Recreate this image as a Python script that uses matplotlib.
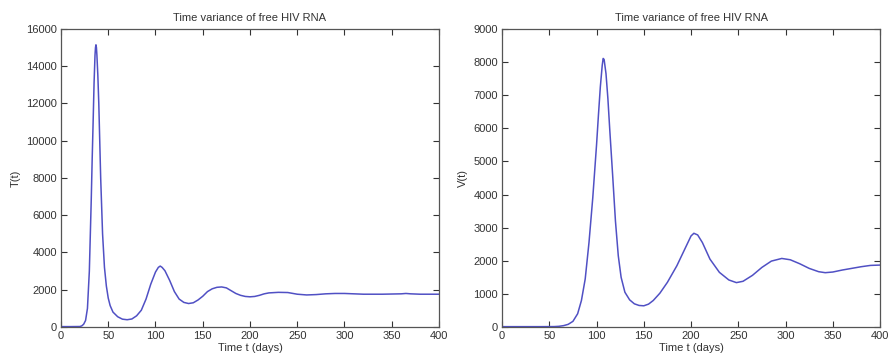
import matplotlib.pyplot as plt

# values
t_left = [0, 10, 20, 22, 24, 26, 28, 30, 32, 33, 34, 35, 36, 36.5, 37, 37.5, 38, 39, 40, 41,
          42, 44, 46, 48, 50, 52, 55, 60, 65, 70, 75, 80, 85, 90, 95, 100, 103, 105, 107, 110,
          115, 120, 125, 130, 135, 140, 145, 150, 155, 160, 165, 170, 175, 180, 185, 190, 195,
          200, 205, 210, 215, 220, 230, 240, 250, 260, 270, 280, 290, 300, 310, 320, 340, 360,
          365, 370, 380, 400]
T_vals = [20, 20, 25, 60, 150, 350, 1000, 3000, 6800, 9000, 11000, 13100, 14600, 15000, 15150,
          15000, 14600, 13500, 12000, 10000, 8000, 5000, 3200, 2200, 1550, 1150, 800, 550, 420,
          390, 430, 600, 900, 1500, 2300, 2950, 3200, 3270, 3200, 3020, 2500, 1900, 1500, 1320,
          1260, 1300, 1450, 1650, 1900, 2050, 2130, 2150, 2100, 1950, 1800, 1700, 1640, 1620,
          1640, 1700, 1780, 1830, 1860, 1850, 1760, 1720, 1740, 1780, 1800, 1800, 1780, 1760,
          1760, 1780, 1800, 1780, 1760, 1760]

t_right = [0, 20, 40, 55, 60, 65, 70, 75, 80, 84, 88, 92, 96, 100, 102, 104, 106, 107, 108,
           110, 112, 114, 117, 120, 123, 126, 130, 135, 140, 145, 150, 155, 160, 167, 175, 185,
           195, 200, 203, 207, 212, 220, 230, 240, 248, 255, 265, 275, 285, 296, 305, 315, 325,
           335, 342, 350, 360, 370, 380, 390, 400]
V_vals = [10, 10, 10, 12, 20, 40, 80, 170, 400, 800, 1450, 2550, 3900, 5500, 6400, 7250, 7900,
          8110, 8080, 7650, 6900, 5950, 4600, 3200, 2150, 1500, 1050, 820, 700, 650, 640, 690,
          800, 1020, 1350, 1850, 2450, 2750, 2830, 2780, 2550, 2050, 1650, 1420, 1340, 1380,
          1560, 1800, 1990, 2070, 2030, 1910, 1770, 1670, 1640, 1660, 1720, 1770, 1820, 1860,
          1870]

line_color = "#5050c4"
text_color = "#333333"

plt.rcParams["font.family"] = ["Liberation Sans", "DejaVu Sans"]
plt.rcParams["font.size"] = 8

fig = plt.figure(figsize=(8.93, 3.6), dpi=100)
ax1 = fig.add_axes([0.0683, 0.0917, 0.4233, 0.8278])
ax2 = fig.add_axes([0.5622, 0.0917, 0.4233, 0.8278])


def style_axes(ax, ylim, ystep, ylabel):
    ax.set_xlim(0, 400)
    ax.set_ylim(0, ylim)
    ax.set_xticks(range(0, 401, 50))
    ax.set_yticks(range(0, ylim + 1, ystep))
    ax.tick_params(direction="in", top=True, right=True, length=4, width=0.8,
                   colors=text_color, labelsize=8, pad=3)
    for sp in ax.spines.values():
        sp.set_color("#555555")
        sp.set_linewidth(0.9)
    ax.set_title("Time variance of free HIV RNA", fontsize=8, color=text_color, pad=6)
    ax.set_xlabel("Time t (days)", fontsize=8, color=text_color, labelpad=1)
    ax.set_ylabel(ylabel, fontsize=8, color=text_color, labelpad=4)


ax1.plot(t_left, T_vals, color=line_color, linewidth=1.1)
style_axes(ax1, 16000, 2000, "T(t)")

ax2.plot(t_right, V_vals, color=line_color, linewidth=1.1)
style_axes(ax2, 9000, 1000, "V(t)")

fig.savefig("out.png", dpi=100)
